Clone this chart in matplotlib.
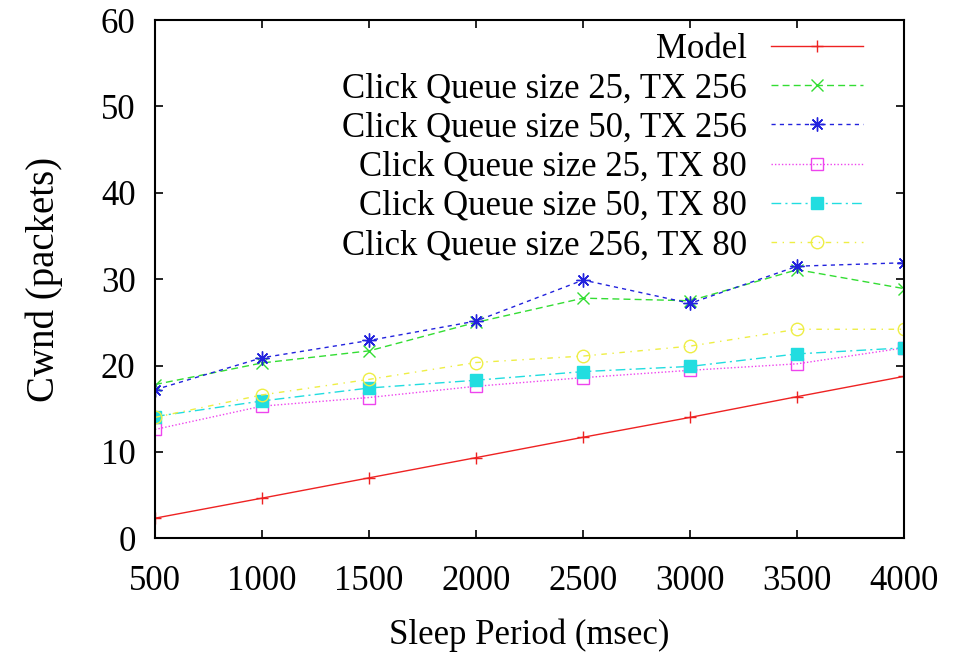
import matplotlib
matplotlib.use('Agg')
import matplotlib.pyplot as plt

plt.rcParams['font.family'] = ['Liberation Serif', 'DejaVu Serif']

sleep = [500, 1000, 1500, 2000, 2500, 3000, 3500, 4000]
model = [2.33, 4.65, 7.0, 9.34, 11.7, 14.0, 16.4, 18.75]
q25_tx256 = [17.8, 20.3, 21.7, 25.0, 27.8, 27.5, 31.1, 28.9]
q50_tx256 = [17.2, 20.9, 22.9, 25.15, 29.9, 27.2, 31.5, 31.9]
q25_tx80 = [12.6, 15.3, 16.3, 17.6, 18.6, 19.45, 20.2, 22.05]
q50_tx80 = [14.1, 15.9, 17.4, 18.3, 19.3, 19.9, 21.35, 22.05]
q256_tx80 = [14.0, 16.6, 18.4, 20.35, 21.1, 22.25, 24.2, 24.2]

labels = ['Model', 'Click Queue size 25, TX 256', 'Click Queue size 50, TX 256',
          'Click Queue size 25, TX 80', 'Click Queue size 50, TX 80',
          'Click Queue size 256, TX 80']

fig = plt.figure(figsize=(9.61, 6.54), dpi=100)
ax = fig.add_axes([0.1613, 0.1769, 0.7797, 0.7925])

lw = 1.0
ax.plot(sleep, model, color='#ee2222', ls='-', lw=lw, marker='+', ms=9, mew=1.0, label=labels[0])
ax.plot(sleep, q25_tx256, color='#33dd33', ls=(0, (5, 3)), lw=lw, marker='x', ms=8, mew=1.0, label=labels[1])
ax.plot(sleep, q50_tx256, color='#2222dd', ls=(0, (3, 3)), lw=lw, marker=(8, 2, 0), ms=10, mew=1.0, label=labels[2])
ax.plot(sleep, q25_tx80, color='#ee44ee', ls=(0, (1, 1.5)), lw=lw, marker='s', ms=9, mfc='none', mew=1.0, label=labels[3])
ax.plot(sleep, q50_tx80, color='#22dde0', ls=(0, (7, 3, 1.5, 3)), lw=lw, marker='s', ms=8, mew=1.0, label=labels[4])
ax.plot(sleep, q256_tx80, color='#eeee44', ls=(0, (4, 4, 1, 4)), lw=lw, marker='o', ms=9, mfc='none', mew=1.0, label=labels[5])

ax.set_xlim(500, 4000)
ax.set_ylim(0, 60)
ax.set_xticks(sleep)
ax.set_yticks(range(0, 61, 10))
ax.tick_params(direction='in', length=6, width=1.2, top=True, right=True, labelsize=25)
ax.tick_params(axis='x', pad=19)
ax.tick_params(axis='y', pad=14)
for s in ax.spines.values():
    s.set_linewidth(1.5)

ax.set_xlabel('Sleep Period (msec)', fontsize=25, labelpad=15)
ax.set_ylabel('Cwnd (packets)', fontsize=28, labelpad=27)

leg = ax.legend(loc='upper right', bbox_to_anchor=(0.945, 0.975), frameon=False, fontsize=25,
                markerfirst=False, handlelength=2.65, handletextpad=0.7, labelspacing=0.18,
                borderpad=0, borderaxespad=0)

fig.savefig('out.png', dpi=100)
